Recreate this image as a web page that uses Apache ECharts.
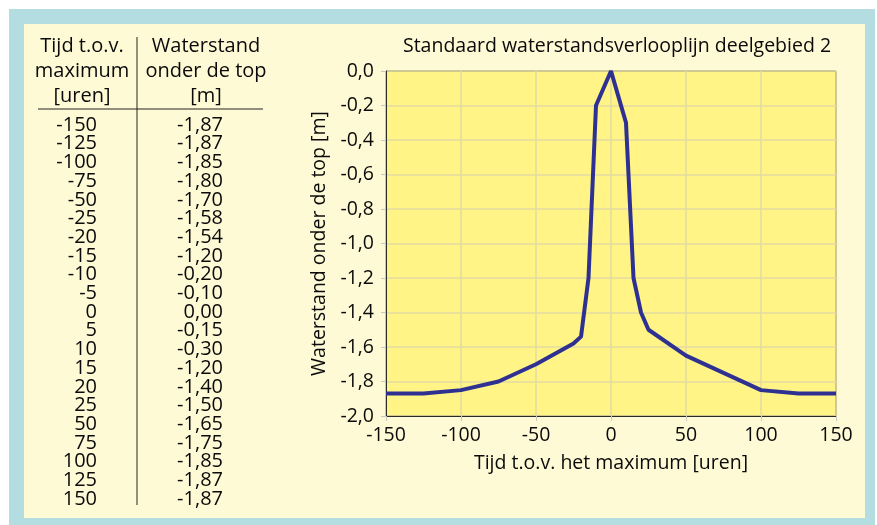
<!DOCTYPE html>
<html>
<head>
<meta charset="utf-8">
<script src="https://cdn.jsdelivr.net/npm/echarts@6/dist/echarts.min.js"></script>
<style>
  html, body { margin: 0; padding: 0; background: #ffffff; }
  #chart { width: 877px; height: 525px; }
</style>
</head>
<body>
<div id="chart"></div>
<script>
// ---- data ----
const hours = [-150, -125, -100, -75, -50, -25, -20, -15, -10, -5, 0, 5, 10, 15, 20, 25, 50, 75, 100, 125, 150];
const levels = [-1.87, -1.87, -1.85, -1.80, -1.70, -1.58, -1.54, -1.20, -0.20, -0.10, 0.00, -0.15, -0.30, -1.20, -1.40, -1.50, -1.65, -1.75, -1.85, -1.87, -1.87];
const headerLeft = ['Tijd t.o.v.', 'maximum', '[uren]'];
const headerRight = ['Waterstand', 'onder de top', '[m]'];
const chartTitle = 'Standaard waterstandsverlooplijn deelgebied 2';
const xName = 'Tijd t.o.v. het maximum [uren]';
const yName = 'Waterstand onder de top [m]';

// ---- styles ----
const FONT = '"Open Sans", "DejaVu Sans", sans-serif';
const TXT = '#0a0a0a';
const TFS = 20;   // table font size
const AFS = 19.5; // axis / title font size
const FW = 500;
const fmtVal = v => v.toFixed(2).replace('.', ',');

const chart = echarts.init(document.getElementById('chart'), null, { renderer: 'canvas' });

const graphics = [
  { type: 'rect', z: -100, shape: { x: 9, y: 9, width: 866, height: 516 }, style: { fill: '#b3dde1' }, silent: true },
  { type: 'rect', z: -99, shape: { x: 24, y: 24, width: 841, height: 494 }, style: { fill: '#fffad6' }, silent: true },
  { type: 'line', z: 5, shape: { x1: 137, y1: 37, x2: 137, y2: 505 }, style: { stroke: '#222', lineWidth: 1 } },
  { type: 'line', z: 5, shape: { x1: 38, y1: 109, x2: 263, y2: 109 }, style: { stroke: '#222', lineWidth: 1 } }
];
const headerY = [46, 71, 96];
const tFont = FW + ' ' + TFS + 'px ' + FONT;
headerLeft.forEach((t, i) => graphics.push({
  type: 'text', z: 5, x: 82, y: headerY[i],
  style: { text: t, fill: TXT, font: tFont, textAlign: 'center', textVerticalAlign: 'middle' }
}));
headerRight.forEach((t, i) => graphics.push({
  type: 'text', z: 5, x: 206, y: headerY[i],
  style: { text: t, fill: TXT, font: tFont, textAlign: 'center', textVerticalAlign: 'middle' }
}));
hours.forEach((h, i) => {
  const y = 125 + i * 18.7;
  graphics.push({
    type: 'text', z: 5, x: 97, y: y,
    style: { text: String(h), fill: TXT, font: tFont, textAlign: 'right', textVerticalAlign: 'middle' }
  });
  graphics.push({
    type: 'text', z: 5, x: 223, y: y,
    style: { text: fmtVal(levels[i]), fill: TXT, font: tFont, textAlign: 'right', textVerticalAlign: 'middle' }
  });
});

const option = {
  animation: false,
  backgroundColor: 'transparent',
  title: {
    text: chartTitle,
    left: 612, top: 31, textAlign: 'center',
    textStyle: { fontFamily: FONT, fontSize: AFS, fontWeight: FW, color: TXT }
  },
  graphic: { elements: graphics },
  grid: {
    left: 386, top: 71, width: 450, height: 345,
    show: true, backgroundColor: '#fff485', borderColor: '#2a2a2a', borderWidth: 1
  },
  xAxis: {
    type: 'value', min: -150, max: 150, interval: 50,
    name: xName, nameLocation: 'middle', nameGap: 37,
    nameTextStyle: { fontFamily: FONT, fontSize: AFS, fontWeight: FW, color: TXT },
    axisLine: { show: true, onZero: false, lineStyle: { color: '#2a2a2a', width: 1 } },
    axisTick: { show: true, length: 5, lineStyle: { color: '#c8c8c0' } },
    axisLabel: { fontFamily: FONT, fontSize: AFS, fontWeight: FW, color: TXT, margin: 9 },
    splitLine: { show: true, lineStyle: { color: '#e3dba2', width: 1.5 } }
  },
  yAxis: {
    type: 'value', min: -2, max: 0, interval: 0.2,
    name: yName, nameLocation: 'middle', nameGap: 56, nameRotate: 90,
    nameTextStyle: { fontFamily: FONT, fontSize: AFS, fontWeight: FW, color: TXT },
    axisLine: { show: true, onZero: false, lineStyle: { color: '#2a2a2a', width: 1 } },
    axisTick: { show: true, length: 5, lineStyle: { color: '#c8c8c0' } },
    axisLabel: {
      fontFamily: FONT, fontSize: AFS, fontWeight: FW, color: TXT, margin: 12,
      formatter: v => (Math.abs(v) < 1e-9 ? 0 : v).toFixed(1).replace('.', ',')
    },
    splitLine: { show: true, lineStyle: { color: '#e3dba2', width: 1.5 } }
  },
  series: [{
    type: 'line',
    data: hours.map((h, i) => [h, levels[i]]),
    showSymbol: false,
    lineStyle: { color: '#2e3192', width: 4 },
    z: 3
  }]
};
chart.setOption(option);
</script>
</body>
</html>
